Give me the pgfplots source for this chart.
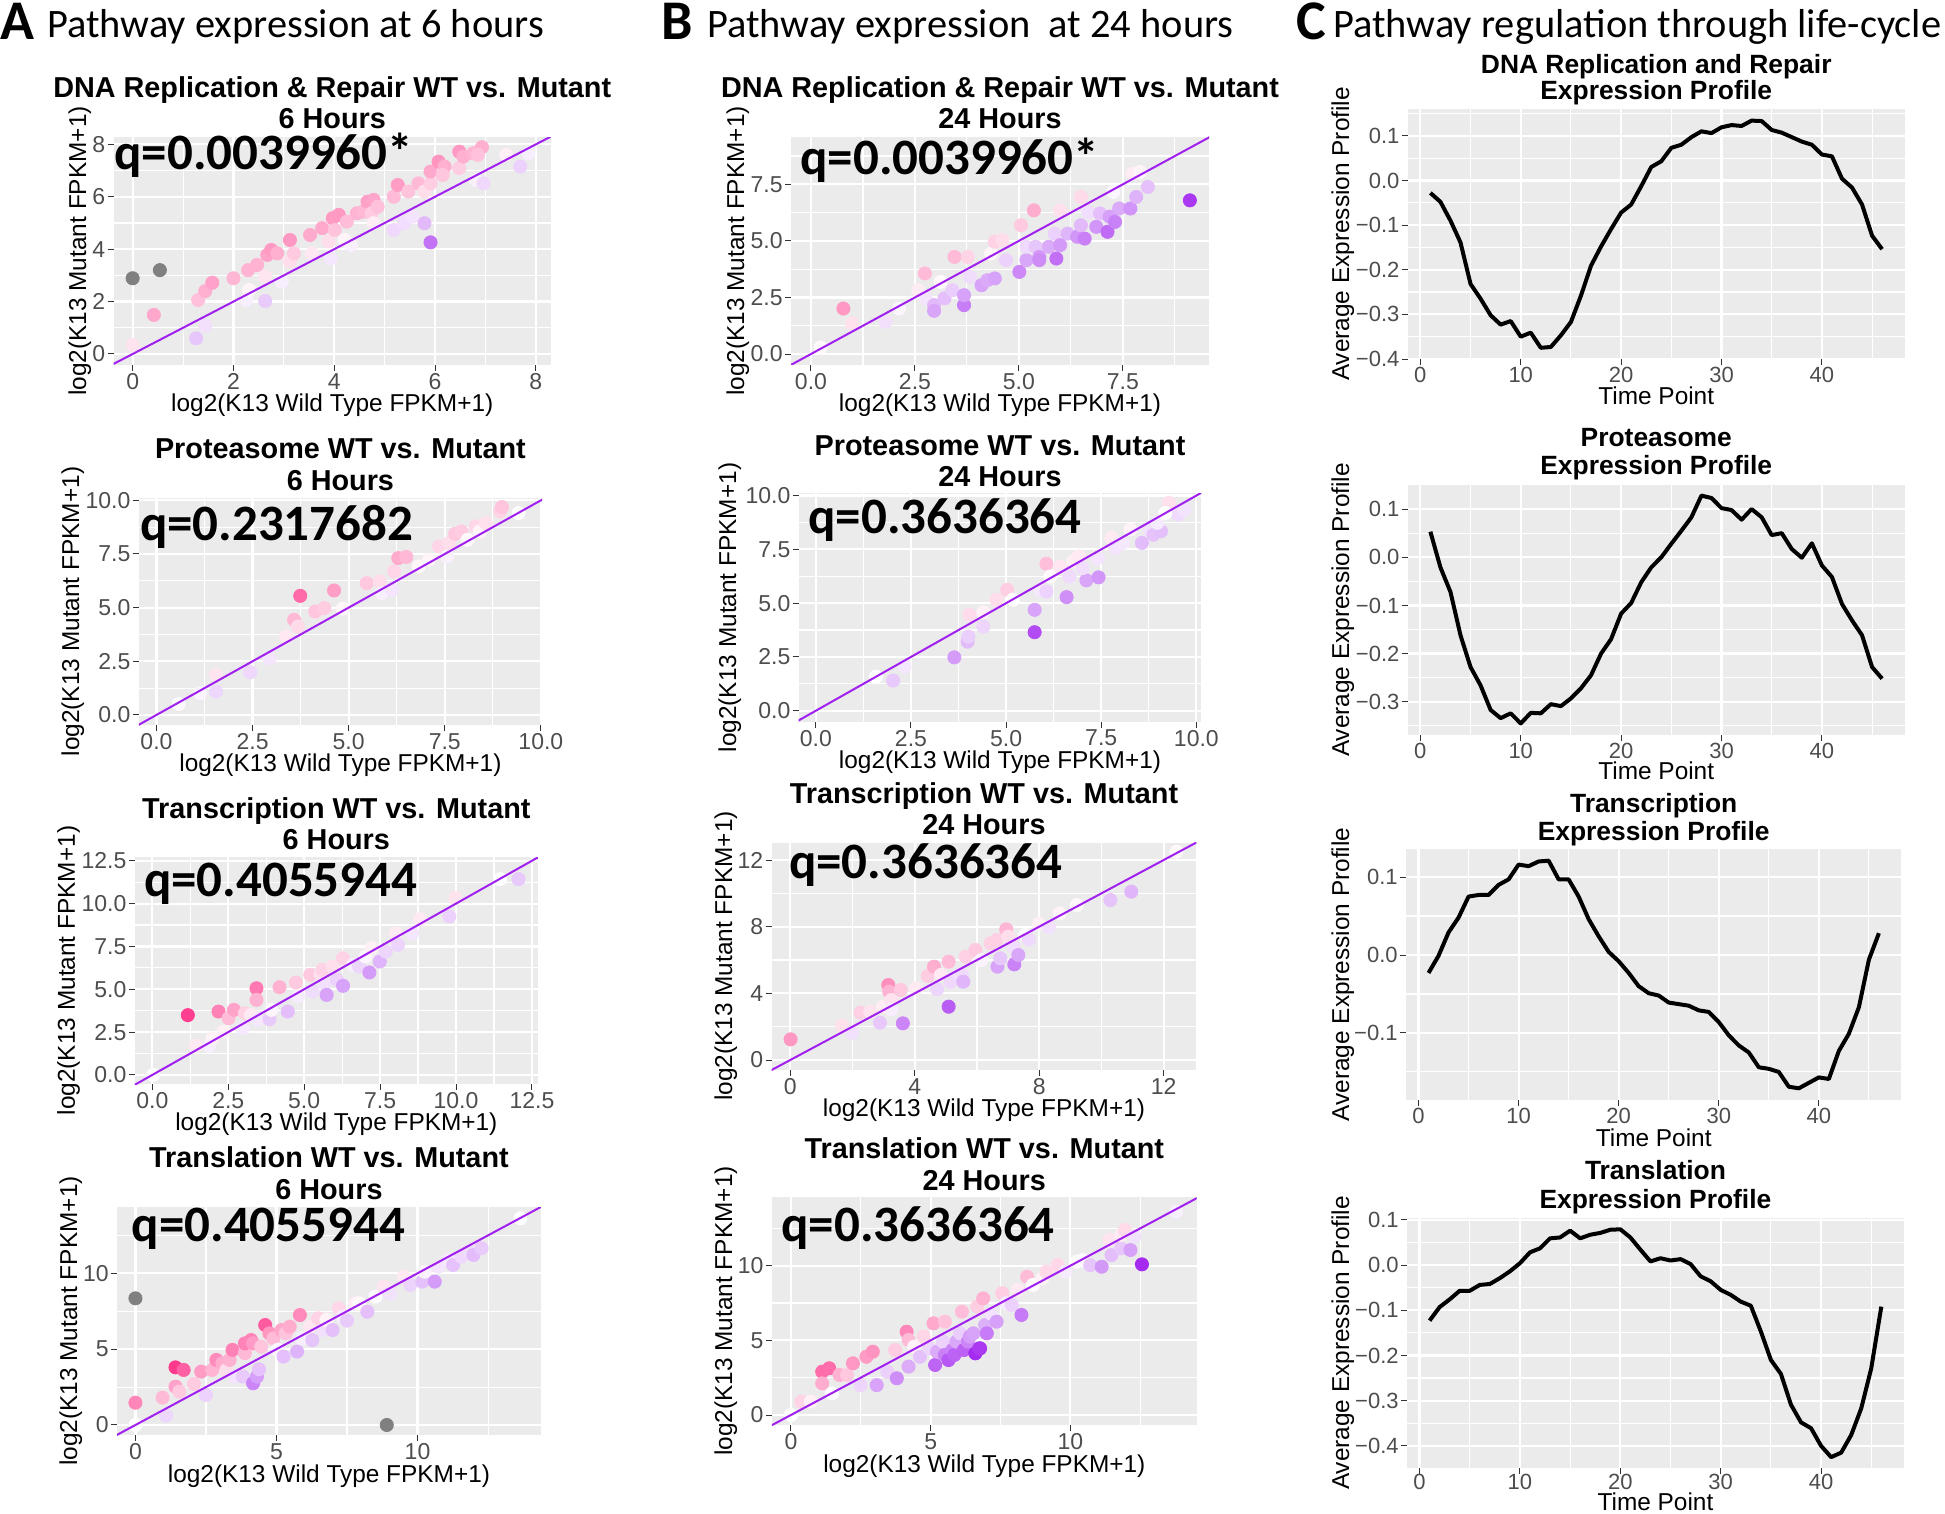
\documentclass[border=0pt]{standalone}
\usepackage{fontspec}
\setmainfont{Liberation Sans}
\newfontfamily\carlito{Carlito}
\usepackage{pgfplots}
\pgfplotsset{compat=1.18}
\definecolor{ggbg}{HTML}{EBEBEB}
\definecolor{ggtick}{HTML}{4D4D4D}
\definecolor{ggtickmark}{HTML}{333333}
\definecolor{ggpurple}{HTML}{A020F0}
\definecolor{gggray}{HTML}{808080}
\newcommand\ttlA{\bfseries\fontsize{14.4}{16}\selectfont}
\newcommand\ttlC{\bfseries\fontsize{13.2}{15}\selectfont}
\newcommand\lab{\fontsize{12.2}{14}\selectfont}
\newcommand\qf{\carlito\bfseries\fontsize{25.5}{28}\selectfont}
\pgfplotsset{
  colormap={pp}{rgb255=(160,32,240) rgb255=(255,255,255) rgb255=(255,40,130)},
  gg/.style={scale only axis, anchor=south west, clip marker paths=true,
    axis background/.style={fill=ggbg}, axis line style={draw=none},
    tick pos=left, tick align=outside, major tick length=3pt, minor tick length=0pt,
    tick style={ggtickmark, line width=0.5pt},
    grid=both, major grid style={white, line width=1.1pt}, minor grid style={white, line width=0.55pt},
    ticklabel style={font=\fontsize{11.5}{13}\selectfont, text=ggtick},
    xticklabel style={inner sep=0.5pt, yshift=-0.5pt},
    yticklabel style={inner sep=0.5pt, xshift=-0.5pt}},
  sc/.style={gg, colormap name=pp, point meta min=-2.6, point meta max=2.6},
  lc/.style={gg, xmin=-1.25, xmax=48.25, xtick={0,10,20,30,40}, minor xtick={5,15,25,35,45},
    xticklabels={0,10,20,30,40},
    ticklabel style={font=\fontsize{11}{13}\selectfont, text=ggtick}},
  dots/.style={scatter, only marks, mark=*, mark size=3.3pt,
    scatter/use mapped color={draw=mapped color, fill=mapped color},
    point meta={\thisrow{y}-\thisrow{x}}},
  gdots/.style={only marks, mark=*, mark size=3.3pt, color=gggray},
  diag/.style={ggpurple, line width=1pt},
  cl/.style={black, line width=2pt, line join=round},
}
\begin{document}
\begin{tikzpicture}
\useasboundingbox (0,0) rectangle (972.5pt,-757pt);

% ---------------- A1
\begin{axis}[sc, at={(56.75pt,-182.5pt)}, width=218.75pt, height=114pt,
  xmin=-0.38, xmax=8.30, ymin=-0.42, ymax=8.28,
  xtick={0,2,4,6,8}, ytick={0,2,4,6,8}, minor xtick={1,3,5,7}, minor ytick={1,3,5,7},
  xticklabels={0,2,4,6,8}, yticklabels={0,2,4,6,8}]
\addplot[dots] table {
x y
0 0.34
0.42 1.49
1.26 0.60
1.44 1.08
1.30 2.06
1.44 2.40
1.58 2.72
2.00 2.89
2.25 2.06
2.63 2.02
2.31 2.44
2.29 3.20
2.47 3.40
2.67 3.78
2.75 3.97
2.87 3.84
2.63 2.95
2.96 2.76
3.12 3.53
3.12 4.35
3.20 3.84
3.52 4.54
3.56 3.84
3.93 3.65
3.76 4.80
3.89 4.29
3.97 5.18
4.09 5.31
4.01 4.73
4.21 4.35
4.33 4.16
4.25 5.05
4.45 5.37
4.57 5.43
4.66 5.81
4.78 5.88
4.74 5.37
4.86 5.62
4.78 4.99
5.18 4.73
5.38 4.99
5.18 6.00
5.26 6.45
5.47 6.20
5.55 5.24
5.67 6.51
5.79 6.20
5.91 6.51
5.79 4.99
5.91 4.26
5.91 6.96
6.07 7.34
6.19 7.15
6.15 6.83
6.48 7.09
6.48 7.72
6.56 7.53
6.76 7.66
6.93 7.89
6.85 7.60
6.81 6.64
6.96 6.51
7.41 7.60
7.69 7.15
7.85 7.66
};
\addplot[gdots] coordinates {(0,2.89) (0.54,3.2)};
\addplot[diag] coordinates {(-2,-2) (16,16)};
\end{axis}

% ---------------- B1
\begin{axis}[sc, at={(395.5pt,-182.5pt)}, width=209pt, height=114pt,
  xmin=-0.48, xmax=9.57, ymin=-0.485, ymax=9.59,
  xtick={0,2.5,5,7.5}, ytick={0,2.5,5,7.5}, minor xtick={1.25,3.75,6.25,8.75}, minor ytick={1.25,3.75,6.25,8.75},
  xticklabels={0.0,2.5,5.0,7.5}, yticklabels={0.0,2.5,5.0,7.5}]
\addplot[dots] table {
x y
0.23 0.29
0.78 2.01
0.99 1.35
1.79 1.43
2.12 2.01
2.58 2.82
2.74 3.56
2.76 2.46
2.96 2.16
2.96 1.91
3.12 3.19
3.21 2.46
3.40 2.82
3.45 4.29
3.68 2.16
3.68 2.60
3.77 4.29
3.82 3.41
4.10 3.04
4.24 3.26
4.42 3.34
4.33 4.44
4.42 4.96
4.60 5.03
4.69 4.15
5.01 3.63
5.05 5.69
5.18 4.15
5.18 4.74
5.36 6.35
5.40 4.74
5.49 4.29
5.49 4.15
5.72 4.74
5.86 5.32
5.90 4.22
5.99 4.81
5.99 6.35
6.17 5.32
6.40 5.18
6.49 6.94
6.49 5.69
6.58 5.10
6.67 6.28
6.86 5.62
6.95 6.21
7.13 5.40
7.18 6.07
7.31 5.84
7.27 7.16
7.41 6.43
7.68 6.43
7.73 7.97
7.82 6.94
7.91 8.04
8.10 7.38
9.11 6.79
};
\addplot[diag] coordinates {(-2,-2) (16,16)};
\end{axis}

% ---------------- C1
\begin{axis}[lc, at={(703.9pt,-179.5pt)}, width=248.45pt, height=125pt,
  ymin=-0.40, ymax=0.16, ytick={-0.4,-0.3,-0.2,-0.1,0,0.1},
  minor ytick={-0.35,-0.25,-0.15,-0.05,0.05,0.15},
  yticklabels={−0.4,−0.3,−0.2,−0.1,0.0,0.1}]
\addplot[cl] table {
t v
1 -0.028
2 -0.048
3 -0.090
4 -0.139
5 -0.232
6 -0.265
7 -0.302
8 -0.323
9 -0.315
10 -0.350
11 -0.341
12 -0.375
13 -0.373
14 -0.347
15 -0.317
16 -0.258
17 -0.191
18 -0.148
19 -0.109
20 -0.072
21 -0.054
22 -0.013
23 0.030
24 0.043
25 0.073
26 0.080
27 0.097
28 0.110
29 0.106
30 0.119
31 0.124
32 0.122
33 0.134
34 0.133
35 0.113
36 0.107
37 0.097
38 0.087
39 0.080
40 0.058
41 0.054
42 0.004
43 -0.016
44 -0.054
45 -0.124
46 -0.154
};
\end{axis}

% ---------------- A2
\begin{axis}[sc, at={(69.4pt,-362.5pt)}, width=201.6pt, height=113.5pt,
  xmin=-0.46, xmax=10.03, ymin=-0.47, ymax=10.11,
  xtick={0,2.5,5,7.5,10}, ytick={0,2.5,5,7.5,10}, minor xtick={1.25,3.75,6.25,8.75}, minor ytick={1.25,3.75,6.25,8.75},
  xticklabels={0.0,2.5,5.0,7.5,10.0}, yticklabels={0.0,2.5,5.0,7.5,10.0}]
\addplot[dots] table {
x y
0.58 0.51
1.14 1.01
1.55 1.87
1.55 1.09
2.44 1.99
2.94 2.64
3.37 3.65
3.58 4.43
3.68 4.12
3.74 5.55
4.13 4.82
4.37 4.98
4.62 5.80
4.85 4.95
5.47 6.14
5.81 6.22
5.86 5.68
6.13 5.83
6.18 6.69
6.29 7.31
6.50 7.36
6.82 6.92
7.09 7.23
7.35 7.85
7.56 7.39
7.61 8.01
7.77 8.44
7.93 8.55
8.09 8.16
8.30 8.79
8.41 8.55
8.57 8.94
8.94 9.49
8.99 9.69
9.42 9.41
};
\addplot[diag] coordinates {(-2,-2) (16,16)};
\end{axis}

% ---------------- B2
\begin{axis}[sc, at={(399.35pt,-360.85pt)}, width=201.3pt, height=114.35pt,
  xmin=-0.45, xmax=10.13, ymin=-0.51, ymax=10.12,
  xtick={0,2.5,5,7.5,10}, ytick={0,2.5,5,7.5,10}, minor xtick={1.25,3.75,6.25,8.75}, minor ytick={1.25,3.75,6.25,8.75},
  xticklabels={0.0,2.5,5.0,7.5,10.0}, yticklabels={0.0,2.5,5.0,7.5,10.0}]
\addplot[dots] table {
x y
1.58 1.58
2.03 1.40
2.33 2.05
3.64 2.48
3.99 3.21
4.01 3.45
4.04 4.46
4.40 3.91
4.40 4.57
4.75 5.16
5.03 5.62
5.18 5.16
5.75 4.69
5.75 3.65
6.06 6.83
5.90 5.62
6.06 5.54
6.16 6.24
6.41 6.71
6.59 5.28
6.66 6.24
6.76 6.94
6.91 7.17
7.11 6.06
7.01 6.63
7.41 7.10
7.43 6.20
7.77 8.03
7.87 7.56
8.07 7.80
8.27 8.42
8.57 7.80
8.77 8.42
8.87 8.18
9.07 8.34
8.97 8.73
9.28 9.66
9.53 9.11
9.68 9.35
9.18 9.19
};
\addplot[diag] coordinates {(-2,-2) (16,16)};
\end{axis}

% ---------------- C2
\begin{axis}[lc, at={(703.9pt,-367.5pt)}, width=248.45pt, height=125pt,
  ymin=-0.369, ymax=0.150, ytick={-0.3,-0.2,-0.1,0,0.1},
  minor ytick={-0.35,-0.25,-0.15,-0.05,0.05},
  yticklabels={−0.3,−0.2,−0.1,0.0,0.1}]
\addplot[cl] table {
t v
1 0.053
2 -0.021
3 -0.072
4 -0.162
5 -0.228
6 -0.266
7 -0.317
8 -0.334
9 -0.324
10 -0.345
11 -0.323
12 -0.324
13 -0.305
14 -0.309
15 -0.293
16 -0.272
17 -0.245
18 -0.200
19 -0.170
20 -0.117
21 -0.095
22 -0.052
23 -0.021
24 0.000
25 0.028
26 0.055
27 0.083
28 0.128
29 0.123
30 0.102
31 0.098
32 0.078
33 0.100
34 0.083
35 0.046
36 0.050
37 0.017
38 -0.001
39 0.029
40 -0.017
41 -0.041
42 -0.097
43 -0.131
44 -0.162
45 -0.228
46 -0.252
};
\end{axis}

% ---------------- A3
\begin{axis}[sc, at={(67.35pt,-542pt)}, width=201.65pt, height=113.5pt,
  xmin=-0.58, xmax=12.70, ymin=-0.53, ymax=12.72,
  xtick={0,2.5,5,7.5,10,12.5}, ytick={0,2.5,5,7.5,10,12.5},
  minor xtick={1.25,3.75,6.25,8.75,11.25}, minor ytick={1.25,3.75,6.25,8.75,11.25},
  xticklabels={0.0,2.5,5.0,7.5,10.0,12.5}, yticklabels={0.0,2.5,5.0,7.5,10.0,12.5}]
\addplot[dots] table {
x y
0.03 0.00
1.17 3.49
1.44 1.71
1.87 1.69
1.98 2.14
2.18 3.70
2.35 2.53
2.51 3.31
2.69 3.80
2.98 2.73
3.05 3.60
3.25 3.50
3.43 5.06
3.43 4.38
3.48 3.21
3.86 3.25
3.92 3.80
4.19 5.12
4.46 3.70
4.73 5.39
4.80 4.58
5.20 5.84
5.27 4.87
5.54 5.90
5.60 6.13
5.67 5.32
5.74 4.67
5.94 6.33
6.08 5.55
6.28 5.20
6.28 6.81
6.61 6.43
6.81 6.33
7.02 6.91
7.15 5.98
7.22 7.40
7.49 6.62
7.69 7.20
8.02 8.27
8.09 7.59
8.56 8.27
8.83 9.09
9.78 9.25
9.98 10.32
11.45 11.43
12.06 11.43
};
\addplot[diag] coordinates {(-2,-2) (16,16)};
\end{axis}

% ---------------- B3
\begin{axis}[sc, at={(385.8pt,-535pt)}, width=212.35pt, height=113.65pt,
  xmin=-0.6, xmax=13.05, ymin=-0.6, ymax=13.04,
  xtick={0,4,8,12}, ytick={0,4,8,12}, minor xtick={2,6,10}, minor ytick={2,6,10},
  xticklabels={0,4,8,12}, yticklabels={0,4,8,12}]
\addplot[dots] table {
x y
0.01 1.24
1.67 2.04
1.99 1.64
2.26 2.84
2.57 2.90
2.88 2.24
2.98 3.20
3.15 4.50
3.18 4.10
3.25 3.60
3.25 3.04
3.55 4.20
3.62 2.20
4.04 4.30
4.42 5.04
4.62 5.60
4.72 4.24
4.84 5.10
5.09 5.90
5.09 3.20
5.15 4.70
5.46 5.16
5.52 5.10
5.56 4.70
5.64 6.20
5.95 6.60
6.14 6.00
6.44 7.00
6.63 7.20
6.66 5.60
6.75 6.10
6.94 7.84
7.00 7.40
7.18 6.80
7.20 5.74
7.33 6.30
7.55 7.50
7.67 7.24
7.98 8.16
8.31 7.96
8.66 8.80
9.21 9.30
10.29 9.60
10.96 10.10
12.41 12.50
};
\addplot[diag] coordinates {(-2,-2) (16,16)};
\end{axis}

% ---------------- C3
\begin{axis}[lc, at={(703pt,-550pt)}, width=247.7pt, height=125.5pt,
  ymin=-0.186, ymax=0.136, ytick={-0.1,0,0.1},
  minor ytick={-0.15,-0.05,0.05},
  yticklabels={−0.1,0.0,0.1}]
\addplot[cl] table {
t v
1 -0.023
2 -0.001
3 0.029
4 0.048
5 0.075
6 0.077
7 0.077
8 0.090
9 0.097
10 0.116
11 0.114
12 0.120
13 0.121
14 0.097
15 0.097
16 0.075
17 0.046
18 0.024
19 0.004
20 -0.008
21 -0.023
22 -0.040
23 -0.049
24 -0.052
25 -0.061
26 -0.063
27 -0.065
28 -0.071
29 -0.073
30 -0.086
31 -0.103
32 -0.116
33 -0.125
34 -0.144
35 -0.146
36 -0.150
37 -0.169
38 -0.171
39 -0.164
40 -0.157
41 -0.159
42 -0.123
43 -0.101
44 -0.067
45 -0.006
46 0.028
};
\end{axis}

% ---------------- A4
\begin{axis}[sc, at={(58.55pt,-717.5pt)}, width=211.85pt, height=113.85pt,
  xmin=-0.65, xmax=14.37, ymin=-0.66, ymax=14.35,
  xtick={0,5,10}, ytick={0,5,10}, minor xtick={2.5,7.5,12.5}, minor ytick={2.5,7.5,12.5},
  xticklabels={0,5,10}, yticklabels={0,5,10}]
\addplot[dots] table {
x y
0 0
0 1.47
0.96 1.80
1.09 0.62
1.42 3.80
1.71 3.63
1.42 2.53
1.56 2.20
2.07 2.70
2.33 3.52
2.50 1.98
2.72 3.63
2.87 4.29
3.08 4.07
3.23 3.63
3.34 4.29
3.44 4.95
3.52 3.19
3.81 3.19
3.88 4.73
3.88 5.38
4.10 5.60
4.17 5.38
4.17 2.75
4.31 3.19
4.38 3.67
4.46 5.16
4.60 6.59
4.75 6.04
4.89 5.71
5.04 4.95
5.18 6.26
5.25 4.51
5.33 6.04
5.47 6.48
5.73 4.84
5.83 7.25
5.90 5.71
6.19 6.48
6.27 5.60
6.48 7.03
6.63 6.26
6.77 6.92
6.99 6.26
7.21 7.69
7.35 7.14
7.50 6.88
7.79 8.02
7.93 8.02
8.22 7.47
8.51 8.46
8.80 9.12
9.02 8.68
9.52 9.78
9.74 9.23
10.17 9.45
10.25 10.11
10.61 9.45
10.75 10.44
11.11 10.88
11.26 10.55
11.55 11.10
11.84 11.43
11.98 11.21
12.27 11.65
13.65 13.63
};
\addplot[gdots] coordinates {(0,8.35) (8.91,0)};
\addplot[diag] coordinates {(-2,-2) (16,16)};
\end{axis}

% ---------------- B4
\begin{axis}[sc, at={(385.95pt,-712.5pt)}, width=212.4pt, height=113.85pt,
  xmin=-0.68, xmax=14.52, ymin=-0.67, ymax=14.58,
  xtick={0,5,10}, ytick={0,5,10}, minor xtick={2.5,7.5,12.5}, minor ytick={2.5,7.5,12.5},
  xticklabels={0,5,10}, yticklabels={0,5,10}]
\addplot[dots] table {
x y
0 0
0.37 0.89
0.71 0.89
1.12 2.90
1.37 3.13
1.12 2.12
1.47 1.45
1.74 2.68
2.01 2.68
2.22 3.46
2.49 2.00
2.70 3.90
2.93 4.24
3.07 2.00
3.45 2.90
3.79 2.46
3.73 4.35
4.14 5.58
4.21 5.02
4.21 3.24
4.41 4.58
4.62 3.90
4.75 5.25
4.96 4.46
5.10 6.14
5.16 3.35
5.23 4.24
5.44 4.91
5.51 4.02
5.51 6.25
5.64 3.68
5.78 4.35
5.85 4.02
5.92 4.91
6.05 5.47
6.12 6.92
6.19 4.35
6.33 4.91
6.40 5.25
6.53 5.47
6.60 4.13
6.67 7.26
6.74 4.46
6.77 4.46
6.88 7.81
6.95 6.03
7.01 5.47
7.15 6.81
7.36 6.25
7.56 8.15
7.70 7.48
7.90 7.37
8.11 8.37
8.25 6.70
8.45 9.26
8.66 8.71
9.00 9.15
9.14 9.60
9.55 10.04
9.82 9.60
10.23 10.27
10.44 10.38
10.71 10.04
11.12 9.93
11.40 11.72
11.47 10.71
11.81 11.16
11.81 12.05
11.95 12.39
12.15 11.05
12.29 11.94
12.56 10.09
13.79 13.62
};
\addplot[diag] coordinates {(-2,-2) (16,16)};
\end{axis}

% ---------------- C4
\begin{axis}[lc, at={(703.5pt,-734pt)}, width=248.45pt, height=125pt,
  xticklabel style={yshift=1pt},
  ymin=-0.449, ymax=0.104, ytick={-0.4,-0.3,-0.2,-0.1,0,0.1},
  minor ytick={-0.35,-0.25,-0.15,-0.05,0.05},
  yticklabels={−0.4,−0.3,−0.2,−0.1,0.0,0.1}]
\addplot[cl] table {
t v
1 -0.123
2 -0.093
3 -0.076
4 -0.057
5 -0.057
6 -0.044
7 -0.042
8 -0.029
9 -0.014
10 0.004
11 0.028
12 0.037
13 0.059
14 0.061
15 0.076
16 0.059
17 0.067
18 0.071
19 0.078
20 0.079
21 0.061
22 0.034
23 0.008
24 0.015
25 0.010
26 0.013
27 0.002
28 -0.025
29 -0.036
30 -0.055
31 -0.066
32 -0.081
33 -0.090
34 -0.147
35 -0.210
36 -0.241
37 -0.309
38 -0.348
39 -0.361
40 -0.400
41 -0.425
42 -0.415
43 -0.376
44 -0.317
45 -0.228
46 -0.092
};
\end{axis}

% ---------------- text
\begin{scope}[x=0.5pt, y=-0.5pt]
% headers
\node[anchor=base west, inner sep=0] at (0,40) {\carlito\bfseries\fontsize{28}{30}\selectfont A};
\node[anchor=base west, inner sep=0] at (47,38) {\carlito\fontsize{20.2}{24}\selectfont Pathway expression at 6 hours};
\node[anchor=base west, inner sep=0] at (661,40) {\carlito\bfseries\fontsize{28}{30}\selectfont B};
\node[anchor=base west, inner sep=0] at (707,38) {\carlito\fontsize{20.2}{24}\selectfont Pathway expression\ \ at 24 hours};
\node[anchor=base west, inner sep=0] at (1296,40) {\carlito\bfseries\fontsize{28}{30}\selectfont C};
\node[anchor=base west, inner sep=0] at (1333,38) {\carlito\fontsize{20.2}{24}\selectfont Pathway regulation through life-cycle};
% titles
\node[anchor=base, inner sep=0] at (332.25,97.3) {\ttlA DNA Replication \& Repair WT vs. Mutant};
\node[anchor=base, inner sep=0] at (332.25,128.3) {\ttlA 6 Hours};
\node[anchor=base, inner sep=0] at (1000,97.3) {\ttlA DNA Replication \& Repair WT vs. Mutant};
\node[anchor=base, inner sep=0] at (1000,128.3) {\ttlA 24 Hours};
\node[anchor=base, inner sep=0] at (1656.25,73.3) {\ttlC DNA Replication and Repair};
\node[anchor=base, inner sep=0] at (1656.25,99.3) {\ttlC Expression Profile};
\node[anchor=base, inner sep=0] at (340.4,458.3) {\ttlA Proteasome WT vs. Mutant};
\node[anchor=base, inner sep=0] at (340.4,490) {\ttlA 6 Hours};
\node[anchor=base, inner sep=0] at (1000,455) {\ttlA Proteasome WT vs. Mutant};
\node[anchor=base, inner sep=0] at (1000,486) {\ttlA 24 Hours};
\node[anchor=base, inner sep=0] at (1656.25,446) {\ttlC Proteasome};
\node[anchor=base, inner sep=0] at (1656.25,474) {\ttlC Expression Profile};
\node[anchor=base, inner sep=0] at (336.35,818.3) {\ttlA Transcription WT vs. Mutant};
\node[anchor=base, inner sep=0] at (336.35,849.3) {\ttlA 6 Hours};
\node[anchor=base, inner sep=0] at (983.95,803.3) {\ttlA Transcription WT vs. Mutant};
\node[anchor=base, inner sep=0] at (983.95,834) {\ttlA 24 Hours};
\node[anchor=base, inner sep=0] at (1653.7,812.7) {\ttlC Transcription};
\node[anchor=base, inner sep=0] at (1653.7,840) {\ttlC Expression Profile};
\node[anchor=base, inner sep=0] at (328.95,1167.7) {\ttlA Translation WT vs. Mutant};
\node[anchor=base, inner sep=0] at (328.95,1199.3) {\ttlA 6 Hours};
\node[anchor=base, inner sep=0] at (984.3,1158.3) {\ttlA Translation WT vs. Mutant};
\node[anchor=base, inner sep=0] at (984.3,1190) {\ttlA 24 Hours};
\node[anchor=base, inner sep=0] at (1655.45,1179.3) {\ttlC Translation};
\node[anchor=base, inner sep=0] at (1655.45,1208.3) {\ttlC Expression Profile};
% x labels
\node[anchor=base, inner sep=0] at (332.25,411) {\lab log2(K13 Wild Type FPKM+1)};
\node[anchor=base, inner sep=0] at (1000,411) {\lab log2(K13 Wild Type FPKM+1)};
\node[anchor=base, inner sep=0] at (1656.25,405) {\lab Time Point};
\node[anchor=base, inner sep=0] at (340.4,771) {\lab log2(K13 Wild Type FPKM+1)};
\node[anchor=base, inner sep=0] at (1000,768) {\lab log2(K13 Wild Type FPKM+1)};
\node[anchor=base, inner sep=0] at (1656.25,779) {\lab Time Point};
\node[anchor=base, inner sep=0] at (336.35,1130) {\lab log2(K13 Wild Type FPKM+1)};
\node[anchor=base, inner sep=0] at (983.95,1116) {\lab log2(K13 Wild Type FPKM+1)};
\node[anchor=base, inner sep=0] at (1653.7,1146) {\lab Time Point};
\node[anchor=base, inner sep=0] at (328.95,1482) {\lab log2(K13 Wild Type FPKM+1)};
\node[anchor=base, inner sep=0] at (984.3,1472) {\lab log2(K13 Wild Type FPKM+1)};
\node[anchor=base, inner sep=0] at (1655.45,1510) {\lab Time Point};
% y labels
\node[anchor=base, inner sep=0, rotate=90] at (86,251) {\lab log2(K13 Mutant FPKM+1)};
\node[anchor=base, inner sep=0, rotate=90] at (79,611.5) {\lab log2(K13 Mutant FPKM+1)};
\node[anchor=base, inner sep=0, rotate=90] at (75,970.5) {\lab log2(K13 Mutant FPKM+1)};
\node[anchor=base, inner sep=0, rotate=90] at (77,1321) {\lab log2(K13 Mutant FPKM+1)};
\node[anchor=base, inner sep=0, rotate=90] at (744,251) {\lab log2(K13 Mutant FPKM+1)};
\node[anchor=base, inner sep=0, rotate=90] at (736,607.5) {\lab log2(K13 Mutant FPKM+1)};
\node[anchor=base, inner sep=0, rotate=90] at (732,956) {\lab log2(K13 Mutant FPKM+1)};
\node[anchor=base, inner sep=0, rotate=90] at (732,1311) {\lab log2(K13 Mutant FPKM+1)};
\node[anchor=base, inner sep=0, rotate=90] at (1349,234) {\lab Average Expression Profile};
\node[anchor=base, inner sep=0, rotate=90] at (1349,610) {\lab Average Expression Profile};
\node[anchor=base, inner sep=0, rotate=90] at (1349,974.5) {\lab Average Expression Profile};
\node[anchor=base, inner sep=0, rotate=90] at (1349,1343) {\lab Average Expression Profile};
% q values
\node[anchor=base west, inner sep=0] at (114,170) {\qf q=0.0039960*};
\node[anchor=base west, inner sep=0] at (800,175) {\qf q=0.0039960*};
\node[anchor=base west, inner sep=0] at (139.6,540) {\qf q=0.2317682};
\node[anchor=base west, inner sep=0] at (808,533) {\qf q=0.3636364};
\node[anchor=base west, inner sep=0] at (143.7,896.7) {\qf q=0.4055944};
\node[anchor=base west, inner sep=0] at (788.8,878.3) {\qf q=0.3636364};
\node[anchor=base west, inner sep=0] at (131.4,1241.7) {\qf q=0.4055944};
\node[anchor=base west, inner sep=0] at (781.1,1241.7) {\qf q=0.3636364};
\end{scope}
\end{tikzpicture}
\end{document}
